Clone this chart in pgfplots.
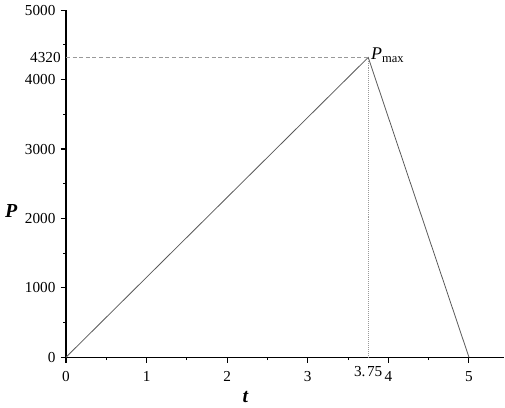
\documentclass[border=0pt]{standalone}
\usepackage{fontspec}
\setmainfont{Liberation Serif}
\usepackage{pgfplots}
\pgfplotsset{compat=1.18}

\begin{document}
\fontsize{11.5}{14}\selectfont
\begin{tikzpicture}
\begin{axis}[
    scale only axis,
    width=331pt, height=262pt,
    xmin=0, xmax=5.44,
    ymin=0, ymax=5000,
    axis lines*=left,
    axis line style={line width=0.9pt},
    tick align=outside,
    major tick length=4pt,
    minor tick length=2.2pt,
    tick style={black, line width=0.8pt},
    xtick={0,1,2,3,4,5},
    minor xtick={0.5,1.5,2.5,3.5,4.5},
    ytick={0,1000,2000,3000,4000,5000},
    minor ytick={500,1500,2500,3500,4500},
    extra x ticks={3.75},
    extra x tick labels={3.\kern1.2pt75},
    extra x tick style={major tick length=0pt},
    extra y ticks={4320},
    extra y tick labels={4320},
    extra y tick style={major tick length=0pt},
    /pgf/number format/1000 sep={},
    /pgf/number format/assume math mode=true,
    tick label style={font=\fontsize{11.5}{14}\selectfont},
    xticklabel style={yshift=-3pt},
    xlabel={\textbf{\textit{t}}},
    ylabel={\textbf{\textit{P}}},
    xlabel style={at={(axis description cs:0.41,-0.115)}, anchor=center, font=\fontsize{15}{17}\selectfont},
    ylabel style={rotate=-90, at={(axis description cs:-0.125,0.42)}, anchor=center, font=\fontsize{15}{17}\selectfont},
    clip=false,
]
\addplot[black!65, line width=0.6pt] coordinates {(0,0) (3.75,4320) (5,0)};
\addplot[gray!80, densely dashed, line width=0.4pt] coordinates {(0,4320) (3.75,4320)};
\addplot[gray!80, densely dotted, line width=0.5pt] coordinates {(3.75,0) (3.75,4320)};
\node[anchor=south west, inner sep=1pt, xshift=1pt, yshift=-5pt, font=\fontsize{13.5}{15}\selectfont] at (axis cs:3.75,4320) {\textit{P}\textsubscript{max}};
\end{axis}
\end{tikzpicture}
\end{document}
